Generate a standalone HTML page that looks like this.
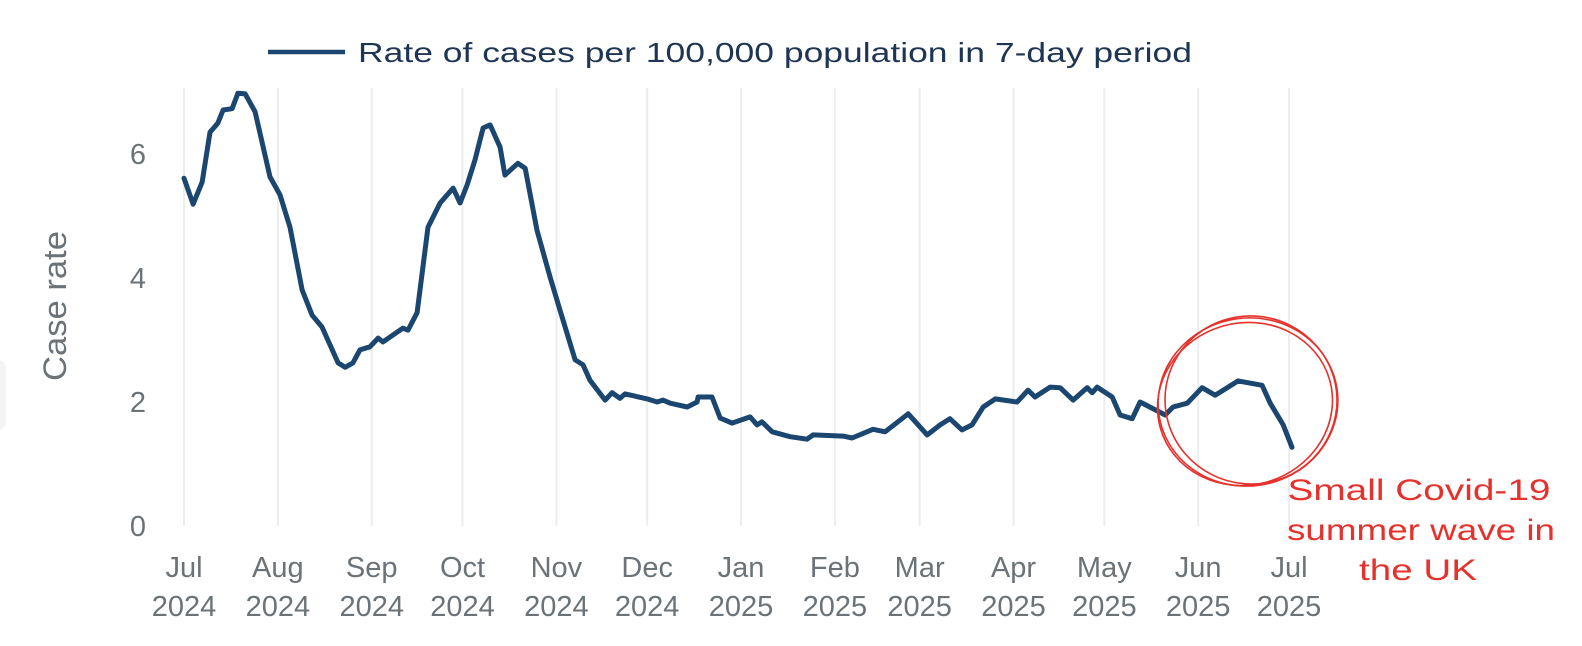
<!DOCTYPE html>
<html><head><meta charset="utf-8"><style>
html,body{margin:0;padding:0;background:#fff;}
svg{display:block;font-family:"Liberation Sans",Arial,sans-serif;}
</style></head><body>
<svg id="chart" width="1582" height="646" viewBox="0 0 1582 646" xmlns="http://www.w3.org/2000/svg">
<rect x="-12" y="360" width="18" height="70" rx="8" fill="#f3f4f6"/>
<g id="grid"></g>
<g id="yticks"></g>
<g id="xticks"></g>
<text transform="translate(66,306) rotate(-90)" text-anchor="middle" font-size="32" textLength="150" lengthAdjust="spacingAndGlyphs" fill="#6b7378">Case rate</text>
<g>
<line x1="268" y1="52" x2="345" y2="52" stroke="#1b4670" stroke-width="4.5"/>
<text x="358" y="62" font-size="28" fill="#1e3553" textLength="834" lengthAdjust="spacingAndGlyphs">Rate of cases per 100,000 population in 7-day period</text>
</g>
<path id="series" fill="none" stroke="#1b4670" stroke-width="5" stroke-linejoin="round" stroke-linecap="round"/>
<g fill="none" stroke="#e5322d" stroke-width="1.6">
<ellipse cx="1248" cy="402" rx="90" ry="84" transform="rotate(-8 1248 402)"/>
<ellipse cx="1245" cy="404" rx="88" ry="81" transform="rotate(-16 1245 404)"/>
<ellipse cx="1251" cy="400" rx="86" ry="84" transform="rotate(5 1251 400)"/>
</g>
<g font-family="'Liberation Sans',sans-serif" font-size="30" fill="#e5322d" text-anchor="middle">
<text x="1419" y="500" textLength="263" lengthAdjust="spacingAndGlyphs">Small Covid-19</text>
<text x="1421" y="540" textLength="268" lengthAdjust="spacingAndGlyphs">summer wave in</text>
<text x="1418" y="580" textLength="118" lengthAdjust="spacingAndGlyphs">the UK</text>
</g>
</svg>
<script>
const days=[0,3,6,8.6,11.2,12.9,15.9,17.8,20.2,23.5,28.4,31.7,35,39,42.3,45.6,50.9,53.2,55.8,58.1,61.4,64.1,65.7,72.3,74,77,80.6,84.6,88.9,91.2,93.5,96.1,98.8,101.1,104.4,106,110.3,112.7,116.6,120.9,124.2,127.5,129.2,131.8,134.1,139.1,141.4,144,145.7,153,156.3,158.2,160.6,166.2,169.5,169.8,174.4,177.1,181,187,189.3,190.9,194.3,200.2,205.8,207.8,217.7,220.7,227.6,231.6,239.2,245.5,249.8,253,257,260.3,264,268,275.2,278.8,281.1,286.1,289.4,293.7,298.3,300,301.6,306.6,309.2,313.2,315.8,324.1,326.7,331.4,336.3,340.6,344.6,348.2,356.1,358.8,363.1,366];
const rates=[5.61,5.19,5.55,6.35,6.5,6.71,6.73,6.98,6.97,6.68,5.63,5.34,4.82,3.81,3.4,3.21,2.63,2.56,2.63,2.84,2.89,3.03,2.97,3.19,3.16,3.44,4.82,5.21,5.45,5.21,5.5,5.9,6.42,6.47,6.11,5.66,5.85,5.77,4.77,4.02,3.48,2.95,2.68,2.6,2.35,2.03,2.15,2.06,2.13,2.05,2.0,2.03,1.98,1.92,2.0,2.08,2.08,1.74,1.66,1.76,1.63,1.68,1.52,1.44,1.4,1.47,1.45,1.42,1.56,1.52,1.81,1.47,1.63,1.73,1.55,1.63,1.92,2.05,2.0,2.19,2.08,2.24,2.23,2.03,2.23,2.15,2.24,2.08,1.79,1.73,2.0,1.79,1.92,1.98,2.23,2.11,2.23,2.34,2.27,1.98,1.63,1.27];
const monthLabels=["Jul","Aug","Sep","Oct","Nov","Dec","Jan","Feb","Mar","Apr","May","Jun","Jul"];
const yearLabels=["2024","2024","2024","2024","2024","2024","2025","2025","2025","2025","2025","2025","2025"];
const monthDays=[0,31,62,92,123,153,184,215,243,274,304,335,365];
const yTicks=[0,2,4,6];
const NS="http://www.w3.org/2000/svg";
const x0=184,x1=1289,y0=526,pxPerUnit=62;
function xs(d){return x0+(x1-x0)*d/365;}
function ys(v){return y0-v*pxPerUnit;}
const grid=document.getElementById('grid'),xt=document.getElementById('xticks'),yt=document.getElementById('yticks');
monthDays.forEach((d,i)=>{
  const l=document.createElementNS(NS,'line');
  
  
  l.setAttribute('x1',xs(d));l.setAttribute('x2',xs(d));l.setAttribute('y1',88);l.setAttribute('y2',y0);
  l.setAttribute('stroke','#ebedf0');l.setAttribute('stroke-width','2');
  grid.appendChild(l);
  const t=document.createElementNS(NS,'text');
  
  
  t.setAttribute('x',xs(d));t.setAttribute('y',577);t.setAttribute('text-anchor','middle');
  t.setAttribute('font-size','29');t.setAttribute('fill','#6b7378');
  t.textContent=monthLabels[i];xt.appendChild(t);
  const t2=document.createElementNS(NS,'text');
  
  
  t2.setAttribute('x',xs(d));t2.setAttribute('y',616);t2.setAttribute('text-anchor','middle');
  t2.setAttribute('font-size','29');t2.setAttribute('fill','#6b7378');
  t2.textContent=yearLabels[i];xt.appendChild(t2);
});
yTicks.forEach(v=>{
  const t=document.createElementNS(NS,'text');
  
  
  t.setAttribute('x',146);t.setAttribute('y',ys(v)+10);t.setAttribute('text-anchor','end');
  t.setAttribute('font-size','29');t.setAttribute('fill','#6b7378');
  t.textContent=v;yt.appendChild(t);
});
document.getElementById('series').setAttribute('d',days.map((d,i)=>(i?'L':'M')+xs(d).toFixed(1)+','+ys(rates[i]).toFixed(1)).join(''));
</script>
</body></html>
